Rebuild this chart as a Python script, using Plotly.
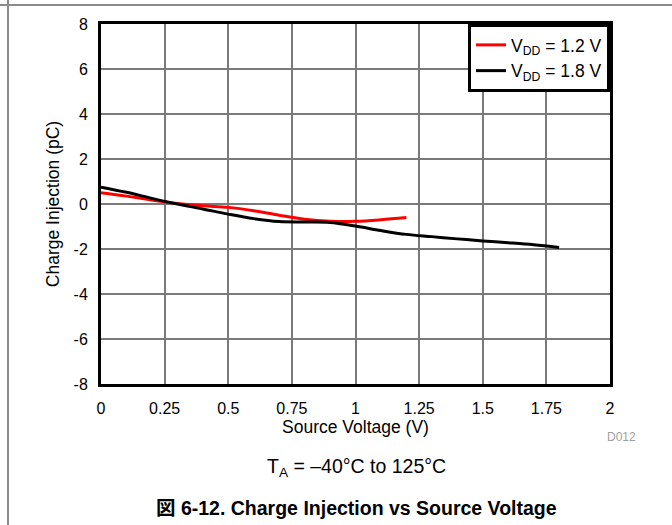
import plotly.graph_objects as go

# Data
x_18 = [0.0, 0.1, 0.2, 0.3, 0.4, 0.5, 0.6, 0.7, 0.8, 0.9, 1.0, 1.1, 1.2, 1.3, 1.4, 1.5, 1.6, 1.7, 1.8]
q_18 = [0.75, 0.52, 0.25, 0.0, -0.22, -0.45, -0.65, -0.78, -0.8, -0.82, -0.98, -1.18, -1.35, -1.45, -1.55, -1.64, -1.72, -1.81, -1.93]

x_12 = [0.0, 0.1, 0.2, 0.3, 0.4, 0.5, 0.6, 0.7, 0.8, 0.9, 1.0, 1.1, 1.2]
q_12 = [0.5, 0.35, 0.18, 0.02, -0.08, -0.15, -0.3, -0.5, -0.68, -0.77, -0.77, -0.7, -0.6]

x_ticks = [0, 0.25, 0.5, 0.75, 1, 1.25, 1.5, 1.75, 2]
x_tick_labels = ["0", "0.25", "0.5", "0.75", "1", "1.25", "1.5", "1.75", "2"]
y_ticks = [-8, -6, -4, -2, 0, 2, 4, 6, 8]
y_tick_labels = ["-8", "-6", "-4", "-2", "0", "2", "4", "6", "8"]

FONT = "Liberation Sans, Arial, Noto Sans CJK JP, sans-serif"

fig = go.Figure()
fig.add_trace(go.Scatter(x=x_12, y=q_12, mode="lines", name="V<sub>DD</sub> = 1.2 V",
                         line=dict(color="#ff0000", width=3, shape="spline")))
fig.add_trace(go.Scatter(x=x_18, y=q_18, mode="lines", name="V<sub>DD</sub> = 1.8 V",
                         line=dict(color="#000000", width=3, shape="spline")))

fig.update_layout(
    width=672, height=525,
    margin=dict(l=101, r=62, t=24, b=141),
    paper_bgcolor="white", plot_bgcolor="white",
    font=dict(family=FONT, size=16, color="black"),
    showlegend=True,
    legend=dict(x=1, y=1, xanchor="right", yanchor="top",
                bgcolor="white", bordercolor="black", borderwidth=3,
                font=dict(size=17.5), tracegroupgap=0, entrywidth=150),
    xaxis=dict(range=[0, 2], tickvals=x_ticks, ticktext=x_tick_labels,
               showgrid=True, gridcolor="#7a7a7a", gridwidth=1.5,
               showline=True, linecolor="black", linewidth=3, mirror=True,
               ticks="", zeroline=False, ticklabelstandoff=8, automargin=False,
               title=dict(text="Source Voltage (V)", font=dict(size=17.5), standoff=4)),
    yaxis=dict(range=[-8, 8], tickvals=y_ticks, ticktext=y_tick_labels,
               showgrid=True, gridcolor="#7a7a7a", gridwidth=1.5,
               showline=True, linecolor="black", linewidth=3, mirror=True,
               ticks="", zeroline=False, ticklabelstandoff=7, automargin=False,
               title=dict(text="Charge Injection (pC)", font=dict(size=17.5), standoff=10)),
)

# page border lines
fig.add_shape(type="line", xref="paper", yref="paper",
              x0=-101/509, x1=571/509, y0=379/360, y1=379/360,
              line=dict(color="#8a8a8a", width=2))
fig.add_shape(type="line", xref="paper", yref="paper",
              x0=-93/509, x1=-93/509, y0=-141/360, y1=384/360,
              line=dict(color="#8a8a8a", width=2))

fig.add_annotation(text="D012", xref="paper", yref="paper",
                   x=(621-101)/509, y=(384-437)/360, showarrow=False,
                   font=dict(size=12, color="#a0a0a0"), xanchor="center", yanchor="middle")
fig.add_annotation(text="T<sub>A</sub> = –40°C to 125°C", xref="paper", yref="paper",
                   x=(356-101)/509, y=(384-467)/360, showarrow=False,
                   font=dict(size=19.5), xanchor="center", yanchor="middle")
fig.add_annotation(text="<b>図 6-12. Charge Injection vs Source Voltage</b>", xref="paper", yref="paper",
                   x=(356-101)/509, y=(384-508)/360, showarrow=False,
                   font=dict(size=19.5), xanchor="center", yanchor="middle")

fig.write_html("out.html", config={"displayModeBar": False},
               post_script="document.body.style.margin='0';")
